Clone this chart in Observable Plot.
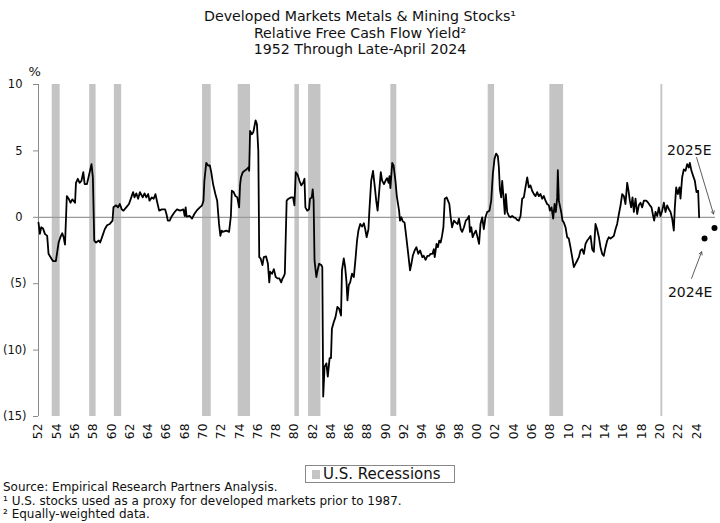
<!DOCTYPE html>
<html>
<head>
<meta charset="utf-8">
<script src="https://cdn.jsdelivr.net/npm/d3@7"></script>
<script src="https://cdn.jsdelivr.net/npm/@observablehq/plot@0.6"></script>
<style>
  html, body { margin: 0; padding: 0; background: #fff; }
  body { font-family: "DejaVu Sans", sans-serif; color: #111; }
  #wrap { position: relative; width: 720px; height: 523px; overflow: hidden; }
  #title { position: absolute; left: 0; top: 8px; width: 720px; text-align: center;
           font-size: 14.2px; line-height: 16.6px; }
  #chart { position: absolute; left: 0; top: 60px; }
  #legend { position: absolute; left: 305px; top: 465px; width: 148px; height: 16px;
            border: 1px solid #888; font-size: 15px; line-height: 16px; box-sizing: content-box;
            white-space: nowrap; }
  #legend .sw { display: inline-block; width: 8px; height: 9px; background: #c4c4c4;
                margin: 0 3px 0 6px; vertical-align: 0px; }
  #notes { position: absolute; left: 3px; top: 481px; font-size: 12px; line-height: 13.6px; }
</style>
</head>
<body>
<div id="wrap">
  <div id="title">
    Developed Markets Metals &amp; Mining Stocks¹<br>
    Relative Free Cash Flow Yield²<br>
    1952 Through Late-April 2024
  </div>
  <div id="chart"></div>
  <div id="legend"><span class="sw"></span>U.S. Recessions</div>
  <div id="notes">
    Source: Empirical Research Partners Analysis.<br>
    ¹ U.S. stocks used as a proxy for developed markets prior to 1987.<br>
    ² Equally-weighted data.
  </div>
</div>
<script>
// Relative free cash flow yield (%), by decimal year
const years = [
  1952.0, 1952.15, 1952.3, 1952.5, 1952.7, 1952.95, 1953.1, 1953.4, 1953.6, 1953.9,
  1954.05, 1954.2, 1954.4, 1954.6, 1954.75, 1954.9, 1955.1, 1955.3, 1955.5, 1955.7,
  1956.0, 1956.1, 1956.3, 1956.5, 1956.7, 1956.9, 1957.05, 1957.3, 1957.6, 1957.8,
  1957.95, 1958.1, 1958.3, 1958.6, 1958.75, 1959.0, 1959.25, 1959.5, 1959.8, 1960.1,
  1960.2, 1960.5, 1960.7, 1960.9, 1961.1, 1961.3, 1961.6, 1961.9, 1962.15, 1962.35,
  1962.5, 1962.7, 1962.9, 1963.1, 1963.4, 1963.6, 1963.8, 1964.0, 1964.15, 1964.4,
  1964.6, 1964.8, 1964.95, 1965.2, 1965.5, 1965.85, 1966.0, 1966.15, 1966.35, 1966.6,
  1966.9, 1967.15, 1967.5, 1967.85, 1968.0, 1968.1, 1968.2, 1968.55, 1968.8, 1969.05,
  1969.3, 1969.65, 1969.9, 1970.05, 1970.15, 1970.35, 1970.55, 1970.75, 1970.9, 1971.1,
  1971.35, 1971.55, 1971.75, 1971.9, 1972.05, 1972.15, 1972.55, 1972.85, 1973.05, 1973.15,
  1973.35, 1973.55, 1973.75, 1973.95, 1974.05, 1974.15, 1974.35, 1974.55, 1974.75, 1974.95,
  1975.05, 1975.15, 1975.35, 1975.5, 1975.75, 1975.9, 1976.05, 1976.15, 1976.3, 1976.5,
  1976.65, 1976.9, 1977.1, 1977.25, 1977.35, 1977.55, 1977.75, 1977.95, 1978.15, 1978.35,
  1978.55, 1978.7, 1978.8, 1978.95, 1979.15, 1979.35, 1979.65, 1979.85, 1980.0, 1980.15,
  1980.35, 1980.55, 1980.75, 1980.95, 1981.1, 1981.2, 1981.4, 1981.6, 1981.7, 1981.9,
  1982.0, 1982.1, 1982.2, 1982.4, 1982.5, 1982.7, 1982.95, 1983.05, 1983.15, 1983.3,
  1983.5, 1983.65, 1983.85, 1984.0, 1984.1, 1984.3, 1984.5, 1984.7, 1984.9, 1985.1,
  1985.2, 1985.4, 1985.55, 1985.7, 1985.8, 1985.95, 1986.1, 1986.3, 1986.5, 1986.7,
  1986.85, 1987.0, 1987.2, 1987.4, 1987.6, 1987.75, 1987.9, 1988.1, 1988.2, 1988.4,
  1988.6, 1988.8, 1988.95, 1989.1, 1989.25, 1989.45, 1989.6, 1989.8, 1990.0, 1990.15,
  1990.3, 1990.4, 1990.5, 1990.7, 1990.85, 1991.05, 1991.2, 1991.45, 1991.55, 1991.7,
  1991.85, 1992.05, 1992.2, 1992.45, 1992.65, 1992.8, 1992.95, 1993.15, 1993.35, 1993.55,
  1993.75, 1994.0, 1994.15, 1994.35, 1994.55, 1994.75, 1994.9, 1995.1, 1995.25, 1995.35,
  1995.55, 1995.7, 1995.85, 1996.0, 1996.15, 1996.3, 1996.45, 1996.65, 1996.8, 1996.95,
  1997.1, 1997.25, 1997.45, 1997.65, 1997.85, 1998.0, 1998.2, 1998.35, 1998.55, 1998.75,
  1998.95, 1999.1, 1999.2, 1999.35, 1999.5, 1999.65, 1999.85, 2000.0, 2000.2, 2000.36,
  2000.55, 2000.72, 2000.9, 2001.09, 2001.34, 2001.53, 2001.71, 2001.89, 2002.07, 2002.26,
  2002.37, 2002.48, 2002.62, 2002.73, 2002.91, 2003.02, 2003.13, 2003.28, 2003.46, 2003.64,
  2003.82, 2004.0, 2004.19, 2004.37, 2004.55, 2004.74, 2004.92, 2005.1, 2005.28, 2005.47,
  2005.65, 2005.83, 2006.01, 2006.2, 2006.38, 2006.56, 2006.74, 2006.92, 2007.11, 2007.29,
  2007.47, 2007.65, 2007.84, 2007.95, 2008.13, 2008.31, 2008.46, 2008.6, 2008.75, 2008.82,
  2008.93, 2009.04, 2009.19, 2009.33, 2009.48, 2009.66, 2009.84, 2010.02, 2010.2, 2010.39,
  2010.57, 2010.75, 2010.94, 2011.12, 2011.3, 2011.48, 2011.67, 2011.85, 2012.03, 2012.21,
  2012.4, 2012.58, 2012.76, 2012.94, 2013.12, 2013.31, 2013.49, 2013.67, 2013.85, 2014.04,
  2014.22, 2014.4, 2014.58, 2014.77, 2014.95, 2015.13, 2015.31, 2015.5, 2015.68, 2015.86,
  2016.04, 2016.22, 2016.41, 2016.55, 2016.7, 2016.84, 2016.99, 2017.14, 2017.32, 2017.5,
  2017.68, 2017.87, 2018.05, 2018.23, 2018.49, 2018.7, 2018.89, 2019.07, 2019.25, 2019.36,
  2019.51, 2019.69, 2019.87, 2020.05, 2020.24, 2020.42, 2020.6, 2020.78, 2020.97, 2021.15,
  2021.33, 2021.51, 2021.62, 2021.77, 2021.95, 2022.13, 2022.24, 2022.42, 2022.6, 2022.79,
  2022.97, 2023.15, 2023.26, 2023.44, 2023.63, 2023.81, 2023.99, 2024.17, 2024.28
];
const values = [
  -0.4, -1.25, -0.75, -0.85, -1.25, -1.4, -2.75, -3.1, -3.3, -3.3,
  -2.6, -1.9, -1.5, -1.2, -1.5, -2.05, 1.6, 1.4, 1.1, 1.35,
  1.1, 2.6, 2.9, 2.6, 2.75, 3.4, 2.5, 2.5, 3.4, 4.0,
  3.0, -1.75, -1.9, -1.75, -1.9, -1.4, -0.9, -0.6, -0.5, -0.25,
  0.75, 0.9, 0.75, 1.0, 0.6, 0.5, 0.75, 1.0, 1.5, 1.9,
  1.5, 1.8, 1.4, 1.9, 1.5, 1.8, 1.5, 1.75, 1.25, 1.5,
  1.4, 1.75, 1.25, 0.5, 0.6, 0.6, 0.25, -0.25, -0.25, 0.1,
  0.4, 0.6, 0.5, 0.6, 0.1, 0.75, 0.05, 0.1, -0.1, 0.25,
  0.5, 0.75, 0.9, 1.25, 2.75, 4.1, 3.9, 3.9, 3.4, 2.5,
  1.75, 1.25, -0.5, -1.4, -1.0, -1.1, -1.0, -1.1, 0.1, 2.0,
  1.9, 1.6, 1.5, 0.75, 2.4, 3.0, 3.4, 3.5, 3.6, 3.75,
  3.5, 6.5, 6.25, 6.4, 7.3, 7.0, 5.0, -3.0, -3.1, -3.6,
  -3.0, -2.95, -3.5, -4.9, -4.1, -4.25, -3.9, -4.5, -4.6, -4.6,
  -4.9, -4.6, -4.5, -4.25, 1.25, 1.4, 1.5, 1.5, 0.9, 3.4,
  3.2, 2.75, 2.4, 2.6, 2.9, 0.75, 0.5, 0.6, 1.4, 1.5,
  2.1, 1.25, -3.25, -4.5, -4.1, -3.5, -3.6, -3.75, -13.5, -11.25,
  -11.0, -12.0, -10.6, -10.6, -8.4, -7.9, -7.5, -6.75, -6.9, -7.4,
  -4.0, -3.1, -3.75, -4.9, -6.25, -5.1, -4.9, -4.25, -4.5, -3.0,
  -1.75, -1.0, -0.5, -0.7, -0.45, -0.9, -1.5, -0.9, 0.5, 2.75,
  3.5, 2.25, 1.25, 0.5, 1.75, 3.4, 2.75, 2.5, 2.8, 2.95,
  2.6, 3.1, 2.2, 4.1, 3.9, 2.75, 1.6, 0.5, -0.25, 0.0,
  -0.3, -0.4, -1.25, -2.75, -4.0, -3.5, -2.9, -2.5, -2.25, -2.75,
  -2.5, -3.0, -2.9, -3.2, -2.9, -2.9, -2.75, -2.75, -2.4, -3.0,
  -2.0, -2.25, -1.75, -1.9, -1.4, -0.75, 1.4, 1.5, 1.25, 1.0,
  0.0, -0.75, -0.25, -0.4, -0.5, -0.1, -0.9, -1.1, -0.75, -0.25,
  -0.1, 0.1, -1.1, -0.75, -1.5, -1.25, -1.0, -1.4, -2.0, -0.5,
  0.0, -0.9, 0.0, 0.4, 0.5, 1.25, 3.25, 4.4, 4.8, 4.6,
  3.75, 2.1, 1.5, 2.75, 1.25, 0.25, 1.75, 0.4, 0.1, 0.0,
  0.1, 0.0, -0.05, -0.2, -0.25, 0.1, 1.4, 1.5, 2.25, 3.0,
  2.25, 2.4, 2.0, 1.75, 1.6, 1.9, 1.6, 1.75, 1.4, 1.6,
  1.25, 1.0, 0.9, 0.5, 0.75, -0.1, 1.0, 0.4, 1.5, 3.55,
  1.25, 0.9, 0.4, -0.25, -0.4, -0.75, -1.5, -1.6, -2.25, -3.0,
  -3.75, -3.5, -3.25, -3.0, -2.5, -2.4, -2.75, -2.0, -1.75, -1.6,
  -1.4, -2.4, -2.6, -0.5, -0.9, -1.5, -2.25, -2.75, -2.9, -2.25,
  -1.75, -1.5, -1.6, -1.5, -1.4, -0.9, -0.5, 0.25, 0.9, 1.75,
  1.6, 1.0, 2.6, 2.0, 1.25, 0.75, 1.5, 0.4, 1.4, 0.25,
  0.9, 1.1, 0.75, 1.25, 1.25, 1.1, 0.9, 0.75, 0.1, -0.25,
  0.4, 0.1, 0.75, 0.1, 0.5, 1.1, 0.4, 0.9, 0.6, 0.4,
  -0.1, -1.0, 0.75, 2.25, 1.75, 2.25, 1.4, 3.0, 3.6, 3.5,
  4.0, 3.75, 4.1, 3.5, 3.1, 2.75, 1.9, 2.0, 0.0
];

// Estimates
const estLabels = ["2024E", "2025E"];
const estYears = [2024.87, 2025.96];
const estValues = [-1.6, -0.8];

// Annotation text anchors and arrows (data units)
const noteYears = [2023.3, 2023.2];
const noteValues = [-5.7, 5.0];
const arrowFromYears = [2023.45, 2024.0];
const arrowFromValues = [-4.6, 4.5];
const arrowToYears = [2024.55, 2025.85];
const arrowToValues = [-2.6, 0.25];

// U.S. recessions (NBER), decimal years
const recessionStart = [1953.5, 1957.6, 1960.3, 1969.95, 1973.85, 1980.05, 1981.55, 1990.55, 2001.2, 2007.95, 2020.1];
const recessionEnd   = [1954.37, 1958.3, 1961.1, 1970.9, 1975.2, 1980.55, 1982.9, 1991.2, 2001.9, 2009.45, 2020.3];

// Axis ticks
const yTicksPos = [10, 5, 0];
const yTicksNeg = [-5, -10, -15];
const xTicks = d3.range(1952, 2025, 2);

const series = years.map((y, i) => ({year: y, value: values[i]}));
const recessions = recessionStart.map((s, i) => ({start: s, end: recessionEnd[i]}));
const estimates = estLabels.map((l, i) => ({label: l, year: estYears[i], value: estValues[i]}));
const notes = estLabels.map((l, i) => ({
  label: l, year: noteYears[i], value: noteValues[i],
  x1: arrowFromYears[i], y1: arrowFromValues[i], x2: arrowToYears[i], y2: arrowToValues[i]
}));

const fmtY = d => d < 0 ? `(${-d})` : `${d}`;
const axisGray = "#8a8a8a";

const chart = Plot.plot({
  width: 720,
  height: 400,
  marginTop: 24,
  marginBottom: 44,
  marginLeft: 38,
  marginRight: 5,
  style: {fontFamily: "DejaVu Sans, sans-serif", color: "#111", background: "#fff"},
  x: {domain: [1952, 2026.07]},
  y: {domain: [-15, 10]},
  marks: [
    Plot.rect(recessions, {x1: "start", x2: "end", fill: "#c4c4c4"}),
    Plot.ruleY([0], {stroke: "#9a9a9a", strokeWidth: 1.3}),
    Plot.ruleX([1952], {stroke: axisGray, strokeWidth: 1}),
    // tick marks
    Plot.axisY({ticks: [...yTicksPos, ...yTicksNeg], tickFormat: () => "", tickSize: 5,
                stroke: axisGray, label: null}),
    // labels: positive values leave room for the closing parenthesis
    Plot.axisY({ticks: yTicksPos, tickFormat: fmtY, tickSize: 0, tickPadding: 16,
                fontSize: 11.5, label: null}),
    Plot.axisY({ticks: yTicksNeg, tickFormat: fmtY, tickSize: 0, tickPadding: 12,
                fontSize: 11.5, label: null}),
    Plot.axisX({ticks: xTicks, tickFormat: d => String(d).slice(2), tickRotate: -90,
                tickSize: 0, tickPadding: 7, fontSize: 12.3, label: null}),
    Plot.text(["%"], {frameAnchor: "top-left", dx: -10, dy: -18, fontSize: 13}),
    Plot.line(series, {x: "year", y: "value", stroke: "#000", strokeWidth: 1.8}),
    Plot.dot(estimates, {x: "year", y: "value", r: 3, fill: "#000", stroke: "none"}),
    Plot.arrow(notes, {x1: "x1", y1: "y1", x2: "x2", y2: "y2", stroke: "#333",
                       strokeWidth: 0.8, headLength: 6}),
    Plot.text(notes, {x: "year", y: "value", text: "label", fontSize: 14, fill: "#111"})
  ]
});
document.getElementById("chart").appendChild(chart);
</script>
</body>
</html>
